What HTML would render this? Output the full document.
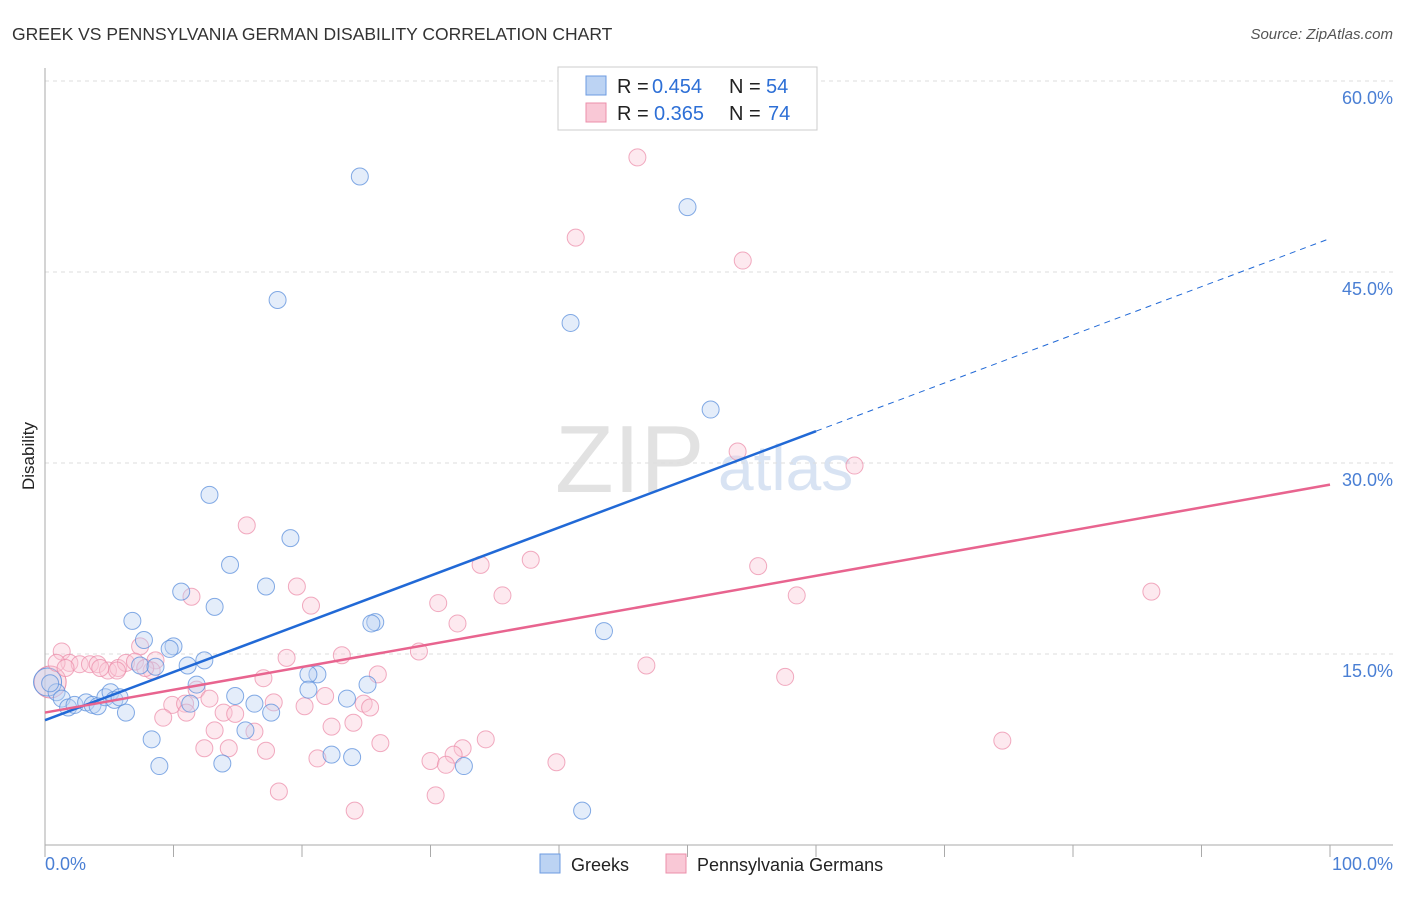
<!DOCTYPE html>
<html><head><meta charset="utf-8"><style>
body{margin:0;background:#fff;font-family:"Liberation Sans",sans-serif;}
svg text{font-family:"Liberation Sans",sans-serif;}
</style></head><body>
<svg width="1406" height="892">
<text x="12" y="40" font-size="17.5" fill="#333">GREEK VS PENNSYLVANIA GERMAN DISABILITY CORRELATION CHART</text>
<text x="1393" y="39" font-size="15" fill="#555" font-style="italic" text-anchor="end">Source: ZipAtlas.com</text>
<text x="555" y="492" font-size="96" fill="#e2e2e2" font-family="Liberation Serif">ZIP</text>
<text x="718" y="490" font-size="64" fill="#d8e3f3">atlas</text>
<g id="grid"></g>
<line x1="45" y1="68" x2="45" y2="845" stroke="#aaa"/>
<line x1="45" y1="845" x2="1393" y2="845" stroke="#aaa"/>
<text transform="translate(34,456) rotate(-90)" font-size="17" fill="#222" text-anchor="middle">Disability</text>
<text x="45" y="870" font-size="18" fill="#4a7fd4">0.0%</text>
<text x="1393" y="870" font-size="18" fill="#4a7fd4" text-anchor="end">100.0%</text>
<g id="pts"></g>
<g id="lines"></g>
<g>
<rect x="558" y="67" width="259" height="63" fill="#fff" stroke="#ccc"/>
<rect x="586" y="76" width="20" height="19" fill="#bcd3f3" stroke="#6d9be0"/>
<rect x="586" y="103" width="20" height="19" fill="#f9c8d6" stroke="#ec8fab"/>
<text x="617" y="93" font-size="20" fill="#222">R =</text>
<text x="652" y="93" font-size="20" fill="#2d6fd6">0.454</text>
<text x="729" y="93" font-size="20" fill="#222">N =</text>
<text x="766" y="93" font-size="20" fill="#2d6fd6">54</text>
<text x="617" y="120" font-size="20" fill="#222">R =</text>
<text x="654" y="120" font-size="20" fill="#2d6fd6">0.365</text>
<text x="729" y="120" font-size="20" fill="#222">N =</text>
<text x="768" y="120" font-size="20" fill="#2d6fd6">74</text>
</g>
<g>
<rect x="540" y="854" width="20" height="19" fill="#bcd3f3" stroke="#6d9be0"/>
<text x="571" y="871" font-size="18" fill="#222">Greeks</text>
<rect x="666" y="854" width="20" height="19" fill="#f9c8d6" stroke="#ec8fab"/>
<text x="697" y="871" font-size="18" fill="#222">Pennsylvania Germans</text>
</g>
</svg>
<script>
const yTicks=[15,30,45,60];
const xTicks=[0,10,20,30,40,50,60,70,80,90,100];
const bluePx=[[360,177],[688,207],[277,300],[571,323],[710,410],[210,495],[290,538],[230,565],[266,586],[181,592],[214,607],[133,621],[375,622],[372,624],[604,631],[144,640],[174,646],[170,649],[204,661],[188,665],[140,665],[155,667],[318,674],[308,674],[196,685],[367,684],[309,690],[235,696],[347,698],[190,704],[254,704],[57,692],[50,683],[62,699],[68,707],[75,705],[86,703],[92,705],[98,706],[105,697],[110,692],[115,700],[120,697],[126,712],[271,712],[246,731],[152,739],[331,754],[352,757],[160,766],[222,764],[464,766],[582,811]];
const pinkPx=[[638,158],[576,237],[743,261],[738,452],[855,466],[247,525],[531,560],[480,565],[758,566],[297,587],[1152,592],[797,595],[502,596],[192,597],[438,603],[311,605],[458,623],[140,647],[419,652],[342,655],[286,658],[647,666],[62,652],[70,663],[80,664],[90,664],[98,664],[108,670],[118,668],[126,663],[135,662],[155,660],[152,671],[785,677],[263,678],[378,675],[197,690],[210,698],[325,696],[274,702],[304,706],[172,705],[185,704],[364,704],[370,707],[163,718],[186,713],[224,712],[235,714],[332,726],[353,723],[215,731],[255,732],[486,739],[381,743],[204,748],[229,748],[266,751],[463,748],[453,755],[1002,741],[431,761],[556,762],[318,758],[446,765],[279,791],[436,795],[355,811],[57,663],[65,668],[100,668],[117,671],[145,668]];
const greekX=bluePx.map(p=>+((p[0]-45)/12.85).toFixed(1));
const greekY=bluePx.map(p=>+((845-p[1])/12.733).toFixed(1));
const pgX=pinkPx.map(p=>+((p[0]-45)/12.85).toFixed(1));
const pgY=pinkPx.map(p=>+((845-p[1])/12.733).toFixed(1));
const greekTrend=[9.8,32.5];
const pgTrend=[10.4,28.3];
const NS='http://www.w3.org/2000/svg';
const X=v=>45+v*12.85, Y=v=>845-v*12.733;
function mk(t,a,p){const e=document.createElementNS(NS,t);for(const k in a)e.setAttribute(k,a[k]);p.appendChild(e);return e;}
const grid=document.getElementById('grid');
yTicks.forEach(t=>{
 const l=mk('line',{x1:45,x2:1393,y1:Y(t),y2:Y(t),stroke:'#ddd','stroke-dasharray':'4,4'},grid);
 
 
 const tx=mk('text',{x:1393,y:Y(t)+23,'font-size':18,fill:'#4a7fd4','text-anchor':'end'},grid);
 tx.textContent=t.toFixed(1)+'%';
 
 
});
xTicks.forEach(t=>{
 const l=mk('line',{x1:X(t),x2:X(t),y1:845,y2:857,stroke:'#aaa'},grid);
 
 
});
const pts=document.getElementById('pts');
function dots(xs,ys,fill,stroke,name){xs.forEach((x,i)=>{
 const c=mk('circle',{cx:X(x),cy:Y(ys[i]),r:8.5,fill:fill,'fill-opacity':0.4,stroke:stroke,'stroke-opacity':0.75,'stroke-width':1},pts);
 
 
});}
const bigP=mk('circle',{cx:X(0.4),cy:Y(12.8),r:16,fill:'#f4b8cb','fill-opacity':0.4,stroke:'#ec8fab'},pts);


const bigB=mk('circle',{cx:X(0.2),cy:Y(12.8),r:14,fill:'#bcd3f3','fill-opacity':0.35,stroke:'#6d9be0'},pts);


dots(pgX,pgY,'#f9c8d6','#ec8fab','pg-point');
dots(greekX,greekY,'#bcd3f3','#5b8fdc','greek-point');
const lines=document.getElementById('lines');
const slopeB=(greekTrend[1]-greekTrend[0])/60;
const b1=mk('line',{x1:X(0),y1:Y(greekTrend[0]),x2:X(60),y2:Y(greekTrend[1]),stroke:'#2169d6','stroke-width':2.5},lines);


const b2=mk('line',{x1:X(60),y1:Y(greekTrend[1]),x2:X(100),y2:Y(greekTrend[0]+slopeB*100),stroke:'#2169d6','stroke-width':1,'stroke-dasharray':'6,5'},lines);


const p1=mk('line',{x1:X(0),y1:Y(pgTrend[0]),x2:X(100),y2:Y(pgTrend[1]),stroke:'#e8648f','stroke-width':2.5},lines);


</script>
</body></html>
